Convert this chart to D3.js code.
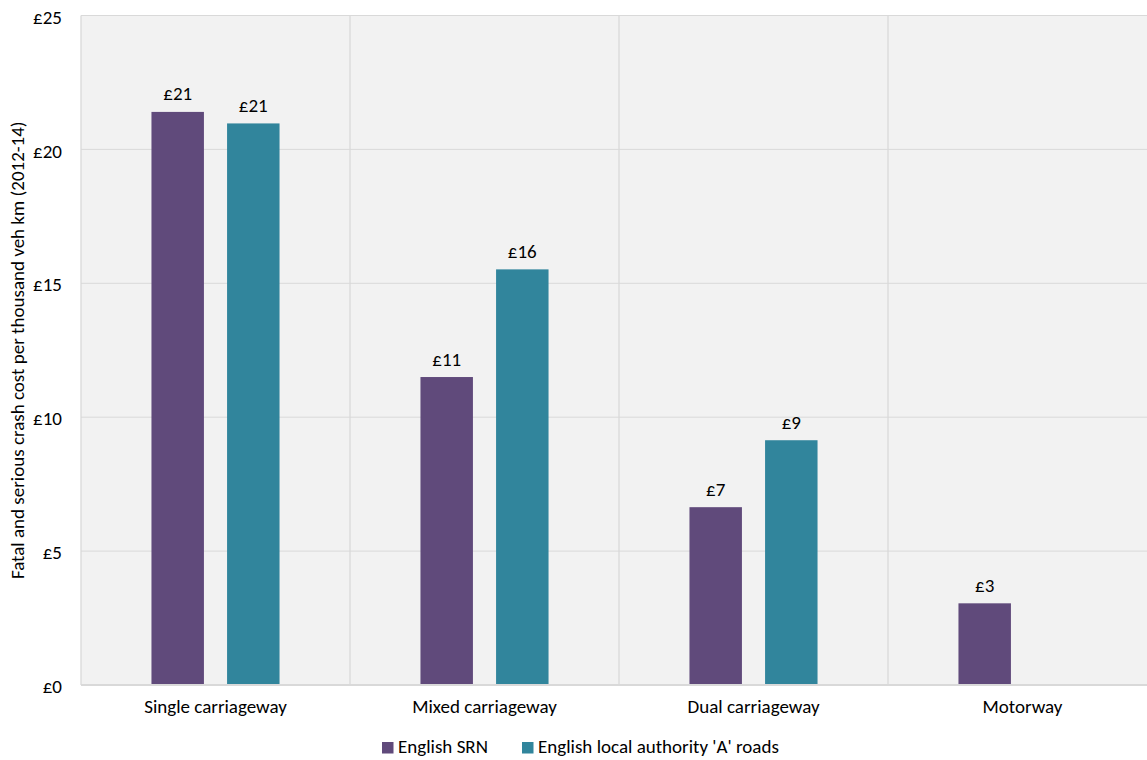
<!DOCTYPE html>
<html lang="en">
<head>
<meta charset="utf-8">
<title>crash cost per veh km</title>
<script src="https://cdn.jsdelivr.net/npm/d3@7"></script>
<style>
html,body {margin:0; padding:0; background:#fff;}
svg {display:block; font-family:Carlito, Lato, "Open Sans", sans-serif;}
</style>
</head>
<body>
<script>
// values
const categories = ['Single carriageway', 'Mixed carriageway', 'Dual carriageway', 'Motorway']
const seriesNames = ['English SRN', "English local authority 'A' roads"]
const srn = [21.4, 11.5, 6.64, 3.05]
const localA = [20.97, 15.52, 9.14, null]
const labelsSrn = ['£21', '£11', '£7', '£3']
const labelsLocal = ['£21', '£16', '£9', null]
const yTicks = [0, 5, 10, 15, 20, 25]
const colors = ['#604a7b', '#31859c']

const W = 1147, H = 760
const m = {left: 81, top: 15.5, bottom: 75}
const plotW = 1076 // runs past the right edge, like the reference
const plotH = H - m.top - m.bottom
const FS = 19

const svg = d3.select('body').append('svg').attr('width', W).attr('height', H)
const g = svg.append('g').attr('transform', `translate(${m.left},${m.top})`)

const x0 = d3.scaleBand().domain(categories).range([0, plotW]).padding(0)
const x1 = d3.scaleBand().domain(seriesNames).range([0, x0.bandwidth()])
  .paddingInner(0.306).paddingOuter(0.932)
const y = d3.scaleLinear().domain([0, 25]).range([plotH, 0])

// plot background
g.append('rect').attr('width', plotW).attr('height', plotH).attr('fill', '#f2f2f2')

// horizontal gridlines
g.append('g').selectAll('line').data(yTicks.filter(d => d > 0)).join('line')
  .attr('x1', 0).attr('x2', plotW)
  .attr('y1', d => y(d)).attr('y2', d => y(d))
  .attr('stroke', '#d9d9d9').attr('stroke-width', 1)

// vertical separators between categories
g.append('g').selectAll('line').data(categories.slice(1)).join('line')
  .attr('x1', d => x0(d)).attr('x2', d => x0(d))
  .attr('y1', 0).attr('y2', plotH)
  .attr('stroke', '#d9d9d9').attr('stroke-width', 1.3)

// left border
g.append('line').attr('x1', 0).attr('x2', 0).attr('y1', 0).attr('y2', plotH)
  .attr('stroke', '#d9d9d9').attr('stroke-width', 1.3)

// bars
const rows = categories.map((c, i) => ({cat: c, vals: [srn[i], localA[i]], labs: [labelsSrn[i], labelsLocal[i]]}))
const cg = g.append('g').selectAll('g').data(rows).join('g')
  .attr('transform', d => `translate(${x0(d.cat)},0)`)

const items = cg.selectAll('g').data(d => seriesNames.map((s, k) => ({s, k, v: d.vals[k], lab: d.labs[k]})).filter(e => e.v != null)).join('g')
items.append('rect')
  .attr('x', d => x1(d.s)).attr('width', x1.bandwidth())
  .attr('y', d => y(d.v)).attr('height', d => y(0) - y(d.v))
  .attr('fill', d => colors[d.k])
items.append('text')
  .attr('x', d => x1(d.s) + x1.bandwidth() / 2)
  .attr('y', d => y(d.v) - 11.5)
  .attr('text-anchor', 'middle').attr('font-size', FS).attr('fill', '#000')
  .text(d => d.lab)

// bottom axis line
g.append('line').attr('x1', 0).attr('x2', plotW).attr('y1', plotH).attr('y2', plotH)
  .attr('stroke', '#d9d9d9').attr('stroke-width', 2)

// y axis
const yAxis = d3.axisLeft(y).tickValues(yTicks).tickFormat(d => '£' + d).tickSize(0).tickPadding(19)
const ya = g.append('g').call(yAxis)
ya.select('.domain').remove()
ya.attr('font-family', null).attr('font-size', null)
ya.selectAll('text').attr('font-size', FS).attr('fill', '#000').attr('dy', '0.4em')

// x axis
const xAxis = d3.axisBottom(x0).tickSize(0)
const xa = g.append('g').attr('transform', `translate(0,${plotH})`).call(xAxis)
xa.select('.domain').remove()
xa.attr('font-family', null).attr('font-size', null)
xa.selectAll('text').attr('font-size', FS).attr('fill', '#000').attr('dy', 0).attr('y', 28)

// y axis title
svg.append('text')
  .attr('transform', `translate(24,${m.top + plotH / 2}) rotate(-90)`)
  .attr('text-anchor', 'middle').attr('font-size', FS).attr('fill', '#000')
  .text('Fatal and serious crash cost per thousand veh km (2012-14)')

// legend
const legX = [382, 522]
const leg = svg.append('g').selectAll('g').data(seriesNames).join('g')
  .attr('transform', (d, i) => `translate(${legX[i]},742)`)
leg.append('rect').attr('width', 11.5).attr('height', 11.5).attr('fill', (d, i) => colors[i])
leg.append('text').attr('x', 16).attr('y', 10.5).attr('font-size', FS).attr('fill', '#000').text(d => d)
</script>
</body>
</html>
